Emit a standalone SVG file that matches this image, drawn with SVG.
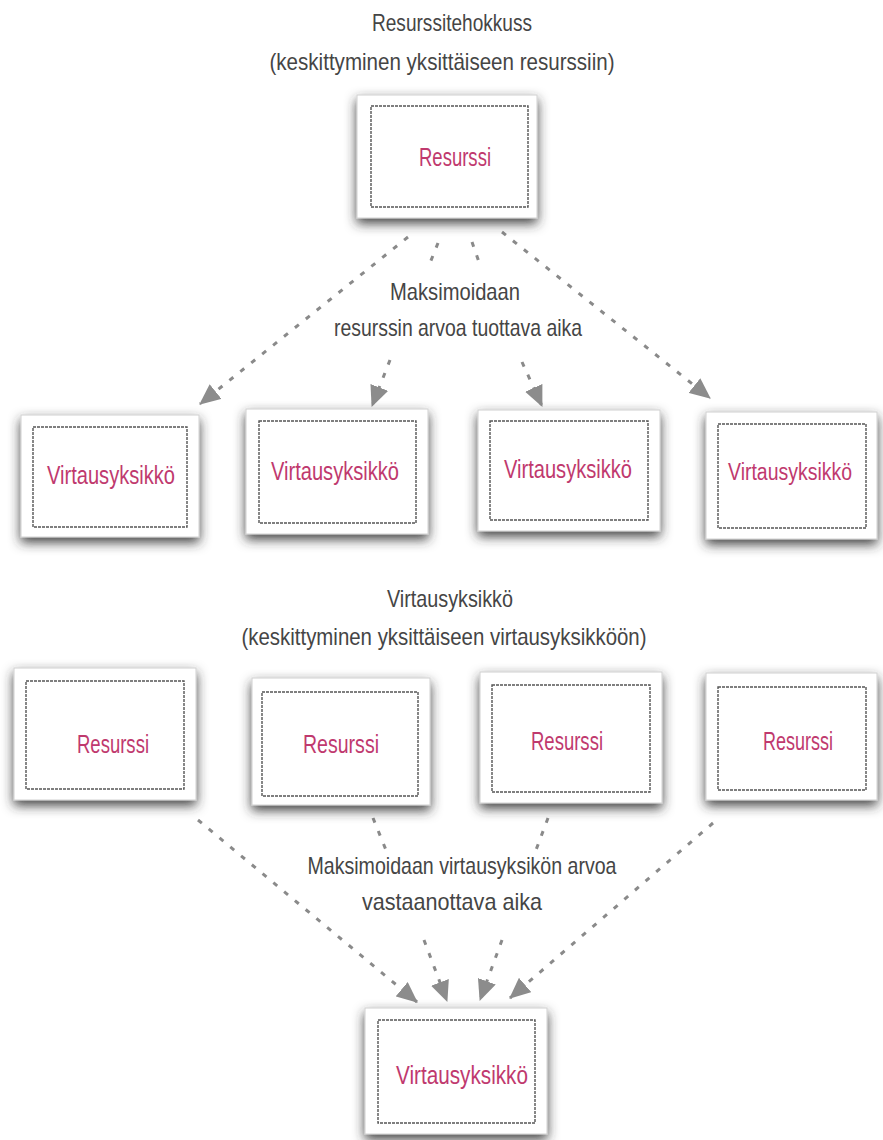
<svg xmlns="http://www.w3.org/2000/svg" width="883" height="1140" viewBox="0 0 883 1140">
<style>
  .title { font-family: "Liberation Sans Narrow", "Liberation Sans", sans-serif; font-size: 24px; fill: #454545; text-anchor: middle; }
  .lbl { font-family: "Liberation Sans Narrow", "Liberation Sans", sans-serif; font-size: 25px; fill: #c0396e; text-anchor: middle; }
  .outer { fill: #ffffff; stroke: #d0d0d0; stroke-width: 1; filter: url(#shadow); }
  .inner { fill: none; stroke: #555555; stroke-width: 1.4; stroke-dasharray: 3 1; }
  .conn { fill: none; stroke: #8a8a8a; stroke-width: 3; stroke-dasharray: 5 9; marker-end: url(#arrow); }
</style>
<defs>
  <filter id="shadow" x="-20%" y="-20%" width="140%" height="150%">
    <feGaussianBlur in="SourceAlpha" stdDeviation="6"/>
    <feOffset dx="0" dy="5" result="b"/>
    <feFlood flood-color="#2e2e2e" flood-opacity="0.9"/>
    <feComposite in2="b" operator="in"/>
    <feMerge><feMergeNode/><feMergeNode in="SourceGraphic"/></feMerge>
  </filter>
  <marker id="arrow" viewBox="0 0 20 18" refX="19" refY="9" markerWidth="21" markerHeight="19" markerUnits="userSpaceOnUse" orient="auto">
    <path d="M0,0 L20,9 L0,18 z" fill="#8c8c8c" stroke="none"/>
  </marker>
</defs>
<rect width="883" height="1140" fill="#ffffff"/>

<g id="texts">
  <text class="title" x="452" y="31" textLength="160" lengthAdjust="spacingAndGlyphs">Resurssitehokkuss</text>
  <text class="title" x="442" y="70" textLength="345" lengthAdjust="spacingAndGlyphs">(keskittyminen yksittäiseen resurssiin)</text>
  <text class="title" x="455" y="300" textLength="130" lengthAdjust="spacingAndGlyphs">Maksimoidaan</text>
  <text class="title" x="458" y="336" textLength="248" lengthAdjust="spacingAndGlyphs">resurssin arvoa tuottava aika</text>
  <text class="title" x="450" y="607" textLength="126" lengthAdjust="spacingAndGlyphs">Virtausyksikkö</text>
  <text class="title" x="444" y="645" textLength="405" lengthAdjust="spacingAndGlyphs">(keskittyminen yksittäiseen virtausyksikköön)</text>
  <text class="title" x="462" y="874" textLength="309" lengthAdjust="spacingAndGlyphs">Maksimoidaan virtausyksikön arvoa</text>
  <text class="title" x="452" y="910" textLength="180" lengthAdjust="spacingAndGlyphs">vastaanottava aika</text>
</g>

<g id="connectors">
  <path class="conn" d="M408,237 L200,404"/>
  <path class="conn" d="M438,243 L430,263 M390,360 L372,406"/>
  <path class="conn" d="M472,242 L479,262 M522,362 L542,406"/>
  <path class="conn" d="M502,232 L710,398"/>
  <path class="conn" d="M198,820 L417,1002"/>
  <path class="conn" d="M373,818 L386,850 M424,940 L447,1001"/>
  <path class="conn" d="M548,818 L536,850 M502,940 L480,1000"/>
  <path class="conn" d="M713,823 L510,998"/>
</g>

<g id="top-resurssi">
  <rect class="outer" x="357" y="95" width="180" height="123"/>
  <rect class="inner" x="371" y="106" width="157" height="101"/>
  <text class="lbl" x="455" y="166" textLength="72" lengthAdjust="spacingAndGlyphs">Resurssi</text>
</g>

<g id="v1">
  <rect class="outer" x="21" y="415" width="178" height="122"/>
  <rect class="inner" x="33" y="427" width="154" height="100"/>
  <text class="lbl" x="111" y="484" textLength="128" lengthAdjust="spacingAndGlyphs">Virtausyksikkö</text>
</g>
<g id="v2">
  <rect class="outer" x="246" y="409" width="182" height="125"/>
  <rect class="inner" x="259" y="421" width="157" height="102"/>
  <text class="lbl" x="335" y="480" textLength="128" lengthAdjust="spacingAndGlyphs">Virtausyksikkö</text>
</g>
<g id="v3">
  <rect class="outer" x="478" y="410" width="182" height="121"/>
  <rect class="inner" x="490" y="421" width="158" height="99"/>
  <text class="lbl" x="568" y="478" textLength="128" lengthAdjust="spacingAndGlyphs">Virtausyksikkö</text>
</g>
<g id="v4">
  <rect class="outer" x="706" y="412" width="171" height="127"/>
  <rect class="inner" x="718" y="424" width="148" height="104"/>
  <text class="lbl" x="790" y="480" style="font-size:23px" textLength="124" lengthAdjust="spacingAndGlyphs">Virtausyksikkö</text>
</g>

<g id="r1">
  <rect class="outer" x="14" y="668" width="182" height="132"/>
  <rect class="inner" x="26" y="681" width="158" height="108"/>
  <text class="lbl" x="113" y="753" textLength="72" lengthAdjust="spacingAndGlyphs">Resurssi</text>
</g>
<g id="r2">
  <rect class="outer" x="252" y="678" width="178" height="127"/>
  <rect class="inner" x="262" y="692" width="156" height="104"/>
  <text class="lbl" x="341" y="753" textLength="76" lengthAdjust="spacingAndGlyphs">Resurssi</text>
</g>
<g id="r3">
  <rect class="outer" x="480" y="672" width="182" height="131"/>
  <rect class="inner" x="492" y="685" width="158" height="107"/>
  <text class="lbl" x="567" y="750" textLength="72" lengthAdjust="spacingAndGlyphs">Resurssi</text>
</g>
<g id="r4">
  <rect class="outer" x="706" y="673" width="171" height="127"/>
  <rect class="inner" x="718" y="687" width="148" height="103"/>
  <text class="lbl" x="798" y="750" textLength="70" lengthAdjust="spacingAndGlyphs">Resurssi</text>
</g>

<g id="bottom-virtausyksikko">
  <rect class="outer" x="365" y="1008" width="182" height="126"/>
  <rect class="inner" x="378" y="1020" width="157" height="103"/>
  <text class="lbl" x="462" y="1084" textLength="132" lengthAdjust="spacingAndGlyphs">Virtausyksikkö</text>
</g>
</svg>
